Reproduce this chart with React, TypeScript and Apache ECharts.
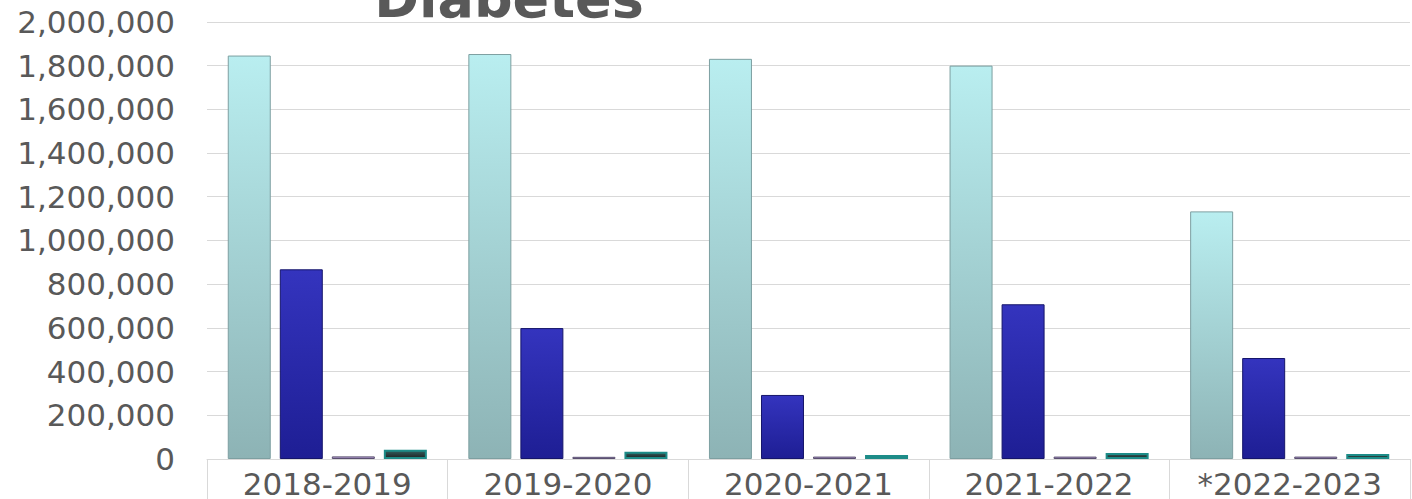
import React, { useEffect, useRef } from "react";
import * as echarts from "echarts";

const categories = ["2018-2019", "2019-2020", "2020-2021", "2021-2022", "*2022-2023"];
const series1 = [1846000, 1853000, 1831000, 1800000, 1133000];
const series2 = [868000, 599000, 293000, 708000, 462000];
const series3 = [12000, 10000, 11000, 11000, 11000];
const series4 = [42000, 33000, 18000, 27000, 23000];
const titleText = "Diabetes";

const W = 1412;
const H = 499;

const vgrad = (top: string, bottom: string) => ({
  type: "linear",
  x: 0,
  y: 0,
  x2: 0,
  y2: 1,
  colorStops: [
    { offset: 0, color: top },
    { offset: 1, color: bottom },
  ],
});

export default function App() {
  const ref = useRef<HTMLDivElement>(null);
  useEffect(() => {
    if (!ref.current) return;
    const chart = echarts.init(ref.current, undefined, { renderer: "svg" });
    const font = "'DejaVu Sans', Verdana, sans-serif";
    const barCommon = {
      type: "bar",
      barWidth: 43,
      barGap: "21%",
    };
    chart.setOption({
      animation: false,
      backgroundColor: "#ffffff",
      textStyle: { fontFamily: font },
      graphic: [
        {
          type: "text",
          x: 509,
          y: -2,
          style: {
            text: titleText,
            fontFamily: font,
            fontSize: 54,
            fontWeight: "bold",
            fill: "#595959",
            textAlign: "center",
            textVerticalAlign: "middle",
          },
        },
      ],
      grid: {
        left: 207,
        right: 2,
        top: 21.9,
        bottom: 39,
        containLabel: false,
      },
      xAxis: {
        type: "category",
        data: categories,
        boundaryGap: true,
        axisLine: { show: true, lineStyle: { color: "#d9d9d9", width: 1 } },
        axisTick: { show: true, interval: 0, length: 45, lineStyle: { color: "#d9d9d9", width: 1 } },
        axisLabel: { color: "#595959", fontSize: 31, fontFamily: font, margin: 9, interval: 0 },
        splitLine: { show: false },
      },
      yAxis: {
        type: "value",
        min: 0,
        max: 2000000,
        interval: 200000,
        axisLine: { show: false },
        axisTick: { show: false },
        axisLabel: {
          color: "#595959",
          fontSize: 31,
          fontFamily: font,
          margin: 32,
          formatter: (v: number) => v.toLocaleString("en-US"),
        },
        splitLine: { show: true, lineStyle: { color: "#d9d9d9", width: 1 } },
      },
      series: [
        {
          ...barCommon,
          name: "Series 1",
          data: series1,
          itemStyle: { color: vgrad("#b9eef0", "#8db3b5"), borderColor: "#7d9fa1", borderWidth: 1 },
        },
        {
          ...barCommon,
          name: "Series 2",
          data: series2,
          itemStyle: { color: vgrad("#3434be", "#1e1e94"), borderColor: "#15156a", borderWidth: 1 },
        },
        {
          ...barCommon,
          name: "Series 3",
          data: series3,
          itemStyle: { color: vgrad("#bda6dd", "#9c86b8"), borderColor: "#5a5070", borderWidth: 1 },
        },
        {
          ...barCommon,
          name: "Series 4",
          data: series4,
          itemStyle: { color: vgrad("#2f5f5e", "#222"), borderColor: "#1d8c88", borderWidth: 2 },
        },
      ],
    });
    return () => chart.dispose();
  }, []);
  return (
    <div
      style={{
        position: "fixed",
        left: 0,
        top: 0,
        width: W,
        height: H,
        overflow: "hidden",
        background: "#fff",
      }}
    >
      <div ref={ref} style={{ width: W, height: H }} />
    </div>
  );
}
